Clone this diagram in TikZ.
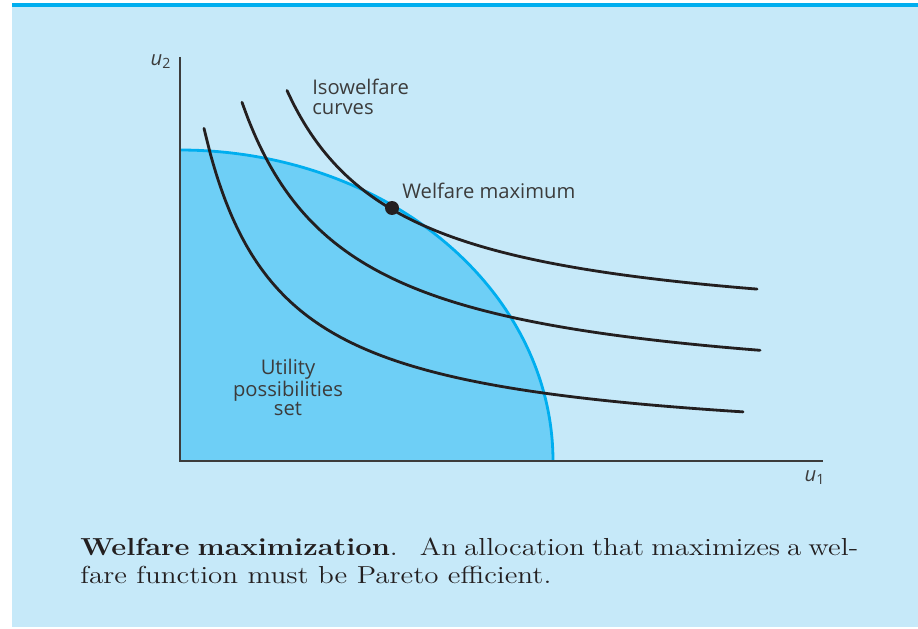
\documentclass[tikz,border=0pt]{standalone}
\usepackage{fontspec}
\setmainfont{Latin Modern Roman}[FakeStretch=1.18]
\newfontfamily\figfont{Open Sans}
\definecolor{panelbg}{HTML}{C6E9F9}
\definecolor{setfill}{HTML}{6ECFF6}
\definecolor{frontier}{HTML}{00AEEF}
\definecolor{curveink}{HTML}{231F20}
\definecolor{labelink}{HTML}{3C3C3C}

\tikzset{
  axisline/.style={draw=labelink, line width=1.1pt},
  isocurve/.style={draw=curveink, line width=1.6pt, line cap=round},
  figlabel/.style={inner sep=0pt, text=labelink, font=\figfont\fontsize{11.5}{11}\selectfont},
}

\begin{document}
\begin{tikzpicture}[x=0.02cm, y=-0.02cm]
	\useasboundingbox (0,0) rectangle (918,628);
	\fill[panelbg] (12,7) rectangle (918,627);
	\fill[frontier] (12,3.5) rectangle (918,7);

	\coordinate (O) at (180,461);
	\coordinate (ytop) at (180,57);
	\coordinate (xend) at (823,461);

	% utility possibilities set
	\fill[setfill] (O) -- plot[domain=90:0, samples=90] ({180+373*cos(\x)}, {461-311*sin(\x)}) -- cycle;
	\draw[frontier, line width=1.6pt] plot[domain=90:0, samples=90] ({180+373*cos(\x)}, {461-311*sin(\x)});

	\draw[axisline] (ytop) -- (O) -- (xend);

	% isowelfare curves
	\draw[isocurve] plot[domain=24:563, samples=80, smooth] ({180+\x}, {451-240/((\x+50.4)/100)});
	\draw[isocurve] plot[domain=62:580, samples=80, smooth] ({180+\x}, {400-309/((\x+41.8)/100)});
	\draw[isocurve] plot[domain=107:577, samples=80, smooth] ({180+\x}, {336.5-276/((\x+5.2)/100)});

	\node[circle, fill=curveink, inner sep=0pt, minimum size=0.28cm] (wmax) at (392,208) {};

	\node[figlabel] (ulabel2) at (161,62) {\itshape u\textsubscript{\upshape 2}};
	\node[figlabel] (ulabel1) at (815,478) {\itshape u\textsubscript{\upshape 1}};
	\node[figlabel, anchor=north west, align=left] (isolabel) at (312,79) {Isowelfare\\curves};
	\node[figlabel, anchor=base west] (maxlabel) at (402,198) {Welfare maximum};
	\node[figlabel, anchor=north, align=center] (setlabel) at (288,359) {Utility\\possibilities\\set};

	\node[anchor=north west, inner sep=0pt, align=left, text=curveink, font=\fontsize{14}{16}\selectfont] (caption) at (80,537.5)
		{\makebox[15.56cm][s]{\textbf{Welfare maximization}.\hspace{0.9em}An allocation that maximizes a wel-}\\fare function must be Pareto efficient.};
\end{tikzpicture}
\end{document}
